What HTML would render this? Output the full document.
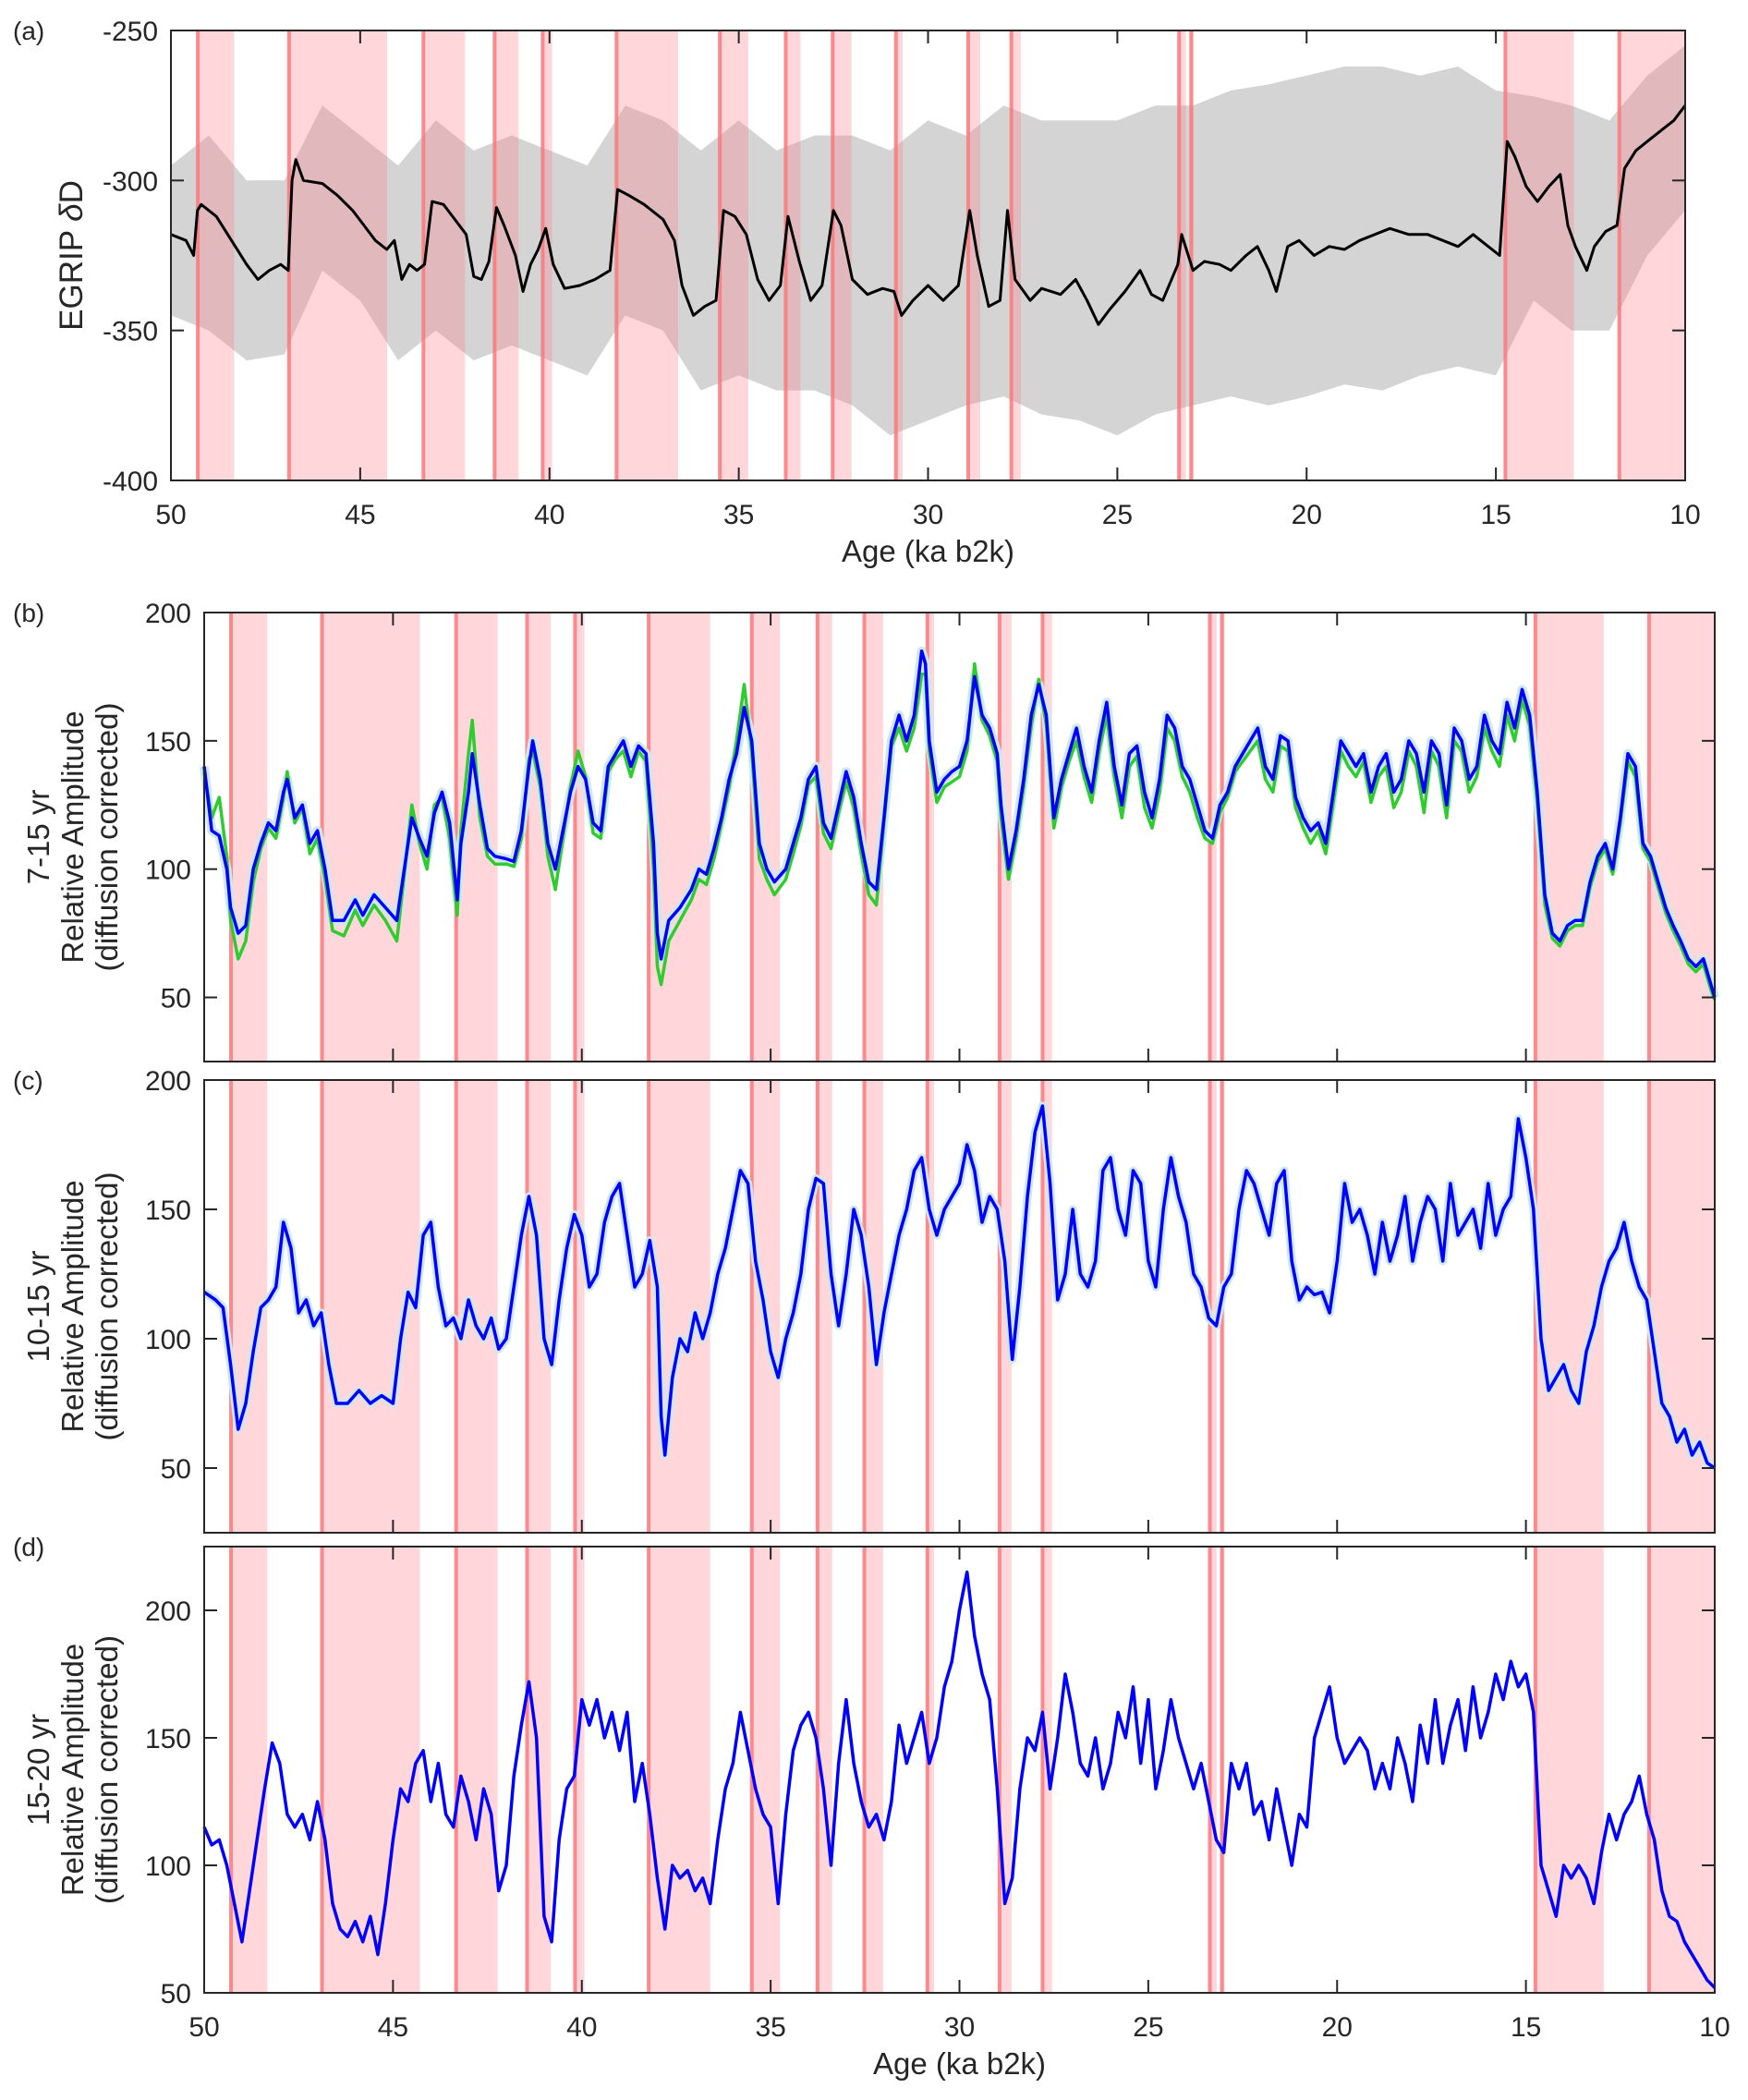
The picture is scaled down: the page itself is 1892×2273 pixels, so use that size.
<!DOCTYPE html>
<html><head><meta charset="utf-8">
<style>
html,body{margin:0;padding:0;background:#fff;}
svg{display:block;font-family:"Liberation Sans",Arial,sans-serif;}
</style></head>
<body>
<svg id="fig" width="1892" height="2273" viewBox="0 0 1892 2273" xmlns="http://www.w3.org/2000/svg">
</svg>
<script>
// ---------- data ----------
const bandStart = [49.29,46.88,43.33,41.45,40.18,38.23,35.5,33.76,32.52,30.85,28.94,27.8,23.37,23.05,14.75,11.74];
const bandEnd   = [48.33,44.29,42.23,40.82,39.93,36.6,34.75,33.37,32.02,30.67,28.62,27.55,23.19,22.98,12.94,10.0];

const ageA = [50,49.6,49.4,49.3,49.2,48.8,48.5,48.3,48,47.7,47.4,47.1,46.9,46.8,46.7,46.5,46,45.6,45.2,44.9,44.6,44.3,44.1,43.9,43.7,43.5,43.3,43.1,42.8,42.5,42.2,42,41.8,41.6,41.4,41.2,40.9,40.7,40.5,40.3,40.1,39.9,39.6,39.2,38.8,38.4,38.2,37.9,37.5,37,36.7,36.5,36.2,35.9,35.6,35.4,35.1,34.8,34.5,34.2,33.9,33.7,33.4,33.1,32.8,32.5,32.3,32,31.6,31.2,30.9,30.7,30.4,30,29.6,29.2,28.9,28.7,28.4,28.1,27.9,27.7,27.3,27,26.5,26.1,25.8,25.5,25.2,24.8,24.4,24.1,23.8,23.4,23.3,23,22.7,22.3,22,21.6,21.3,21,20.8,20.5,20.2,19.8,19.4,19,18.6,18.2,17.8,17.3,16.8,16.4,16,15.6,15.2,14.9,14.7,14.5,14.2,13.9,13.6,13.3,13.1,12.9,12.6,12.4,12.1,11.8,11.6,11.3,11,10.6,10.3,10];
const dD = [-318,-320,-325,-310,-308,-312,-318,-322,-328,-333,-330,-328,-330,-300,-293,-300,-301,-305,-310,-315,-320,-323,-320,-333,-328,-330,-328,-307,-308,-313,-318,-332,-333,-327,-309,-315,-325,-337,-328,-323,-316,-328,-336,-335,-333,-330,-303,-305,-308,-313,-320,-335,-345,-342,-340,-310,-312,-318,-333,-340,-335,-312,-327,-340,-335,-310,-315,-333,-338,-336,-337,-345,-340,-335,-340,-335,-310,-325,-342,-340,-310,-333,-340,-336,-338,-333,-340,-348,-343,-337,-330,-338,-340,-328,-318,-330,-327,-328,-330,-325,-322,-330,-337,-322,-320,-325,-322,-323,-320,-318,-316,-318,-318,-320,-322,-318,-322,-325,-287,-292,-302,-307,-302,-298,-315,-322,-330,-322,-317,-315,-296,-290,-287,-283,-280,-275];

const ageEnv = [50,49,48,47,46,45,44,43,42,41,40,39,38,37,36,35,34,33,32,31,30,29,28,27,26,25,24,23,22,21,20,19,18,17,16,15,14,13,12,11,10];
const rawUpper = [-295,-285,-300,-300,-275,-285,-295,-280,-290,-285,-290,-295,-275,-280,-290,-280,-290,-285,-285,-290,-280,-285,-275,-280,-280,-280,-275,-275,-270,-268,-265,-262,-262,-265,-262,-270,-272,-275,-280,-265,-255];
const rawLower = [-345,-350,-360,-358,-330,-340,-360,-350,-360,-355,-360,-365,-345,-350,-370,-365,-370,-370,-375,-385,-380,-375,-372,-378,-380,-385,-378,-375,-372,-375,-372,-368,-370,-365,-362,-365,-340,-350,-350,-325,-310];

const ageB = [50,49.8,49.6,49.4,49.3,49.1,48.9,48.7,48.5,48.3,48.1,47.9,47.8,47.6,47.4,47.2,47,46.8,46.6,46.3,46,45.8,45.5,45.2,44.9,44.7,44.5,44.3,44.1,43.9,43.7,43.5,43.3,43.2,43,42.9,42.7,42.5,42.3,42,41.8,41.6,41.4,41.3,41.1,40.9,40.7,40.5,40.3,40.1,39.9,39.7,39.5,39.3,39.1,38.9,38.7,38.5,38.3,38.1,38,37.9,37.7,37.4,37.1,36.9,36.7,36.5,36.3,36.1,35.9,35.7,35.5,35.3,35.1,34.9,34.6,34.4,34.2,34,33.8,33.6,33.4,33.2,33,32.8,32.6,32.4,32.2,32,31.8,31.6,31.4,31.2,31,30.9,30.8,30.6,30.4,30.2,30,29.8,29.6,29.4,29.2,29,28.9,28.7,28.5,28.3,28.1,27.9,27.7,27.5,27.3,27.1,26.9,26.7,26.5,26.3,26.1,25.9,25.7,25.5,25.3,25.1,24.9,24.7,24.5,24.3,24.1,23.9,23.7,23.5,23.3,23.1,22.9,22.7,22.5,22.3,22.1,21.9,21.7,21.5,21.3,21.1,20.9,20.7,20.5,20.3,20.1,19.9,19.7,19.5,19.3,19.1,18.9,18.7,18.5,18.3,18.1,17.9,17.7,17.5,17.3,17.1,16.9,16.7,16.5,16.3,16.1,15.9,15.7,15.5,15.3,15.1,14.9,14.7,14.5,14.3,14.1,13.9,13.7,13.5,13.3,13.1,12.9,12.7,12.5,12.3,12.1,11.9,11.7,11.5,11.3,11.1,10.9,10.7,10.5,10.3,10.1,10];
const ampB = [140,115,113,100,85,75,78,100,110,118,115,130,135,120,125,110,115,100,80,80,88,82,90,85,80,100,120,112,105,122,130,118,88,110,130,145,125,108,105,104,103,115,140,150,135,110,100,115,130,140,135,118,115,140,145,150,140,148,145,110,75,65,80,85,92,100,98,108,120,135,145,163,150,110,100,95,100,110,120,135,140,118,112,125,138,128,110,95,92,120,150,160,150,160,185,180,150,130,135,138,140,150,175,160,155,145,125,100,115,135,160,172,160,120,135,145,155,140,130,150,165,140,125,145,148,130,120,135,160,155,140,135,125,115,112,125,130,140,145,150,155,140,135,152,150,128,120,115,118,110,130,150,145,140,145,130,140,145,130,135,150,145,130,150,145,125,155,150,135,140,160,150,145,165,155,170,160,130,90,75,72,78,80,80,95,105,110,100,120,145,140,110,105,95,85,78,72,65,62,65,55,50];
const ampBgreen = [138,120,128,105,80,65,72,95,108,116,112,128,138,118,124,106,112,96,76,74,84,78,86,80,72,98,125,110,100,125,128,112,82,115,145,158,120,105,102,102,101,112,143,146,132,105,92,112,132,146,136,114,112,138,143,146,136,146,142,100,62,55,72,80,88,96,94,104,118,132,150,172,146,104,96,90,96,106,117,133,136,114,108,122,134,124,106,90,86,118,148,155,146,155,176,176,146,126,132,134,136,146,180,158,152,142,120,96,112,132,156,174,156,116,132,142,150,136,126,146,160,136,120,140,144,124,116,130,155,150,136,130,120,112,110,122,128,138,142,146,150,135,130,148,146,124,116,110,115,106,126,146,140,136,142,126,136,140,124,130,146,140,122,146,140,120,150,146,130,136,155,146,140,160,150,166,156,126,86,73,70,76,78,78,93,103,108,98,118,142,136,108,103,93,83,76,70,63,60,63,53,49];

const ageC = [50,49.7,49.5,49.3,49.1,48.9,48.7,48.5,48.3,48.1,47.9,47.7,47.5,47.3,47.1,46.9,46.7,46.5,46.2,45.9,45.6,45.3,45,44.8,44.6,44.4,44.2,44,43.8,43.6,43.4,43.2,43,42.8,42.6,42.4,42.2,42,41.8,41.6,41.4,41.2,41,40.8,40.6,40.4,40.2,40,39.8,39.6,39.4,39.2,39,38.8,38.6,38.4,38.2,38,37.9,37.8,37.6,37.4,37.2,37,36.8,36.6,36.4,36.2,36,35.8,35.6,35.4,35.2,35,34.8,34.6,34.4,34.2,34,33.8,33.6,33.4,33.2,33,32.8,32.6,32.4,32.2,32,31.8,31.6,31.4,31.2,31,30.8,30.6,30.4,30.2,30,29.8,29.6,29.4,29.2,29,28.8,28.6,28.4,28.2,28,27.8,27.6,27.4,27.2,27,26.8,26.6,26.4,26.2,26,25.8,25.6,25.4,25.2,25,24.8,24.6,24.4,24.2,24,23.8,23.6,23.4,23.2,23,22.8,22.6,22.4,22.2,22,21.8,21.6,21.4,21.2,21,20.8,20.6,20.4,20.2,20,19.8,19.6,19.4,19.2,19,18.8,18.6,18.4,18.2,18,17.8,17.6,17.4,17.2,17,16.8,16.6,16.4,16.2,16,15.8,15.6,15.4,15.2,15,14.8,14.6,14.4,14.2,14,13.8,13.6,13.4,13.2,13,12.8,12.6,12.4,12.2,12,11.8,11.6,11.4,11.2,11,10.8,10.6,10.4,10.2,10];
const ampC = [118,115,112,90,65,75,95,112,115,120,145,135,110,115,105,110,90,75,75,80,75,78,75,100,118,112,140,145,120,105,108,100,115,105,100,108,96,100,120,140,155,140,100,90,115,135,148,140,120,125,145,155,160,140,120,125,138,120,70,55,85,100,95,110,100,110,125,135,150,165,160,130,115,95,85,100,110,125,150,162,160,125,105,125,150,140,120,90,110,125,140,150,165,170,150,140,150,155,160,175,165,145,155,150,130,92,120,155,180,190,160,115,125,150,125,120,130,165,170,150,140,165,160,130,120,150,170,155,145,125,120,108,105,120,125,150,165,160,150,140,160,165,130,115,120,117,118,110,130,160,145,150,140,125,145,130,140,155,130,145,155,150,130,160,140,145,150,135,160,140,150,155,185,170,150,100,80,85,90,80,75,95,105,120,130,135,145,130,120,115,95,75,70,60,65,55,60,52,50];

const ageD = [50,49.8,49.6,49.4,49.2,49,48.8,48.6,48.4,48.2,48,47.8,47.6,47.4,47.2,47,46.8,46.6,46.4,46.2,46,45.8,45.6,45.4,45.2,45,44.8,44.6,44.4,44.2,44,43.8,43.6,43.4,43.2,43,42.8,42.6,42.4,42.2,42,41.8,41.6,41.4,41.2,41,40.8,40.6,40.4,40.2,40,39.8,39.6,39.4,39.2,39,38.8,38.6,38.4,38.2,38,37.8,37.6,37.4,37.2,37,36.8,36.6,36.4,36.2,36,35.8,35.6,35.4,35.2,35,34.8,34.6,34.4,34.2,34,33.8,33.6,33.4,33.2,33,32.8,32.6,32.4,32.2,32,31.8,31.6,31.4,31.2,31,30.8,30.6,30.4,30.2,30,29.8,29.6,29.4,29.2,29,28.8,28.6,28.4,28.2,28,27.8,27.6,27.4,27.2,27,26.8,26.6,26.4,26.2,26,25.8,25.6,25.4,25.2,25,24.8,24.6,24.4,24.2,24,23.8,23.6,23.4,23.2,23,22.8,22.6,22.4,22.2,22,21.8,21.6,21.4,21.2,21,20.8,20.6,20.4,20.2,20,19.8,19.6,19.4,19.2,19,18.8,18.6,18.4,18.2,18,17.8,17.6,17.4,17.2,17,16.8,16.6,16.4,16.2,16,15.8,15.6,15.4,15.2,15,14.8,14.6,14.4,14.2,14,13.8,13.6,13.4,13.2,13,12.8,12.6,12.4,12.2,12,11.8,11.6,11.4,11.2,11,10.8,10.6,10.4,10.2,10];
const ampD = [115,108,110,100,85,70,90,110,130,148,140,120,115,120,110,125,110,85,75,72,78,70,80,65,85,110,130,125,140,145,125,140,120,115,135,125,110,130,120,90,100,135,155,172,150,80,70,110,130,135,165,155,165,150,160,145,160,125,140,120,95,75,100,95,98,90,95,85,110,130,140,160,145,130,120,115,85,120,145,155,160,150,130,100,140,165,140,125,115,120,110,125,155,140,150,160,140,150,170,180,200,215,190,175,165,130,85,95,130,150,145,160,130,150,175,160,140,135,150,130,140,160,150,170,140,165,130,145,165,150,140,130,140,125,110,105,140,130,140,120,125,110,130,115,100,120,115,150,160,170,150,140,145,150,145,130,140,130,150,140,125,155,140,165,140,155,165,145,170,150,160,175,165,180,170,175,160,100,90,80,100,95,100,95,85,105,120,110,120,125,135,120,110,90,80,78,70,65,60,55,52];

// ---------- helpers ----------
const NS = 'http://www.w3.org/2000/svg';
const svg = document.getElementById('fig');
function mk(tag, attrs, parent){
  const e = document.createElementNS(NS, tag);
  for (const k in attrs) e.setAttribute(k, attrs[k]);
  (parent||svg).appendChild(e);
  return e;
}
function panel(cfg){
  const g = mk('g', {});
  
  
  const x = a => cfg.L + (50 - a) / 40 * (cfg.R - cfg.L);
  const y = v => cfg.B - (v - cfg.ymin) / (cfg.ymax - cfg.ymin) * (cfg.B - cfg.T);
  cfg.x = x; cfg.y = y; cfg.g = g;
  return cfg;
}
function bands(p){
  for (let i = 0; i < bandStart.length; i++){
    const r = mk('rect', {x: p.x(bandStart[i]), y: p.T, width: p.x(bandEnd[i]) - p.x(bandStart[i]), height: p.B - p.T, fill: 'rgb(255,120,128)', 'fill-opacity': 0.3}, p.g);
    
    
    const l = mk('line', {x1: p.x(bandStart[i]), x2: p.x(bandStart[i]), y1: p.T, y2: p.B, stroke: 'rgb(250,120,125)', 'stroke-width': 4, 'stroke-opacity': 0.85}, p.g);
    
    
  }
}
function line(p, ages, vals, color, w, name){
  let d = '';
  for (let i = 0; i < ages.length; i++) d += (i ? 'L' : 'M') + p.x(ages[i]).toFixed(1) + ',' + p.y(vals[i]).toFixed(1);
  const e = mk('path', {d: d, fill: 'none', stroke: color, 'stroke-width': w, 'stroke-linejoin': 'round'}, p.g);
  
  
}
function axes(p, yticks, xlabels, ylabLines){
  const f = mk('rect', {x: p.L, y: p.T, width: p.R - p.L, height: p.B - p.T, fill: 'none', stroke: '#262626', 'stroke-width': 2}, p.g);
  
  
  for (let a = 50; a >= 10; a -= 5){
    const xx = p.x(a);
    mk('line', {x1: xx, x2: xx, y1: p.B, y2: p.B - 14, stroke: '#262626', 'stroke-width': 2}, p.g);
    mk('line', {x1: xx, x2: xx, y1: p.T, y2: p.T + 14, stroke: '#262626', 'stroke-width': 2}, p.g);
    if (xlabels){
      const t = mk('text', {x: xx, y: p.B + 47, 'font-size': 30, 'text-anchor': 'middle', fill: '#262626'}, p.g);
      t.textContent = String(a);
      
      
    }
  }
  yticks.forEach(v => {
    const yy = p.y(v);
    mk('line', {x1: p.L, x2: p.L + 14, y1: yy, y2: yy, stroke: '#262626', 'stroke-width': 2}, p.g);
    mk('line', {x1: p.R, x2: p.R - 14, y1: yy, y2: yy, stroke: '#262626', 'stroke-width': 2}, p.g);
    const t = mk('text', {x: p.L - 14, y: yy + 11, 'font-size': 30, 'text-anchor': 'end', fill: '#262626'}, p.g);
    t.textContent = String(v);
    
    
  });
  if (xlabels){
    const t = mk('text', {x: (p.L + p.R) / 2, y: p.B + 88, 'font-size': 33, 'text-anchor': 'middle', fill: '#262626'}, p.g);
    t.textContent = 'Age (ka b2k)';
    
    
  }
  const cy = (p.T + p.B) / 2;
  ylabLines.forEach((s, i) => {
    const t = mk('text', {x: 0, y: 0, 'font-size': p.ylabSize, 'text-anchor': 'middle', fill: '#262626', transform: 'translate(' + (p.ylabX0 + i * 37) + ',' + cy + ') rotate(-90)'}, p.g);
    t.innerHTML = s;
    
    
  });
  const pl = mk('text', {x: 14, y: p.T + 10, 'font-size': 28, fill: '#262626'}, p.g);
  pl.textContent = p.tag;
  
  
}

// ---------- panel a ----------
const pa = panel({name: 'panel-a', L: 185, R: 1824, T: 33, B: 520, ymin: -400, ymax: -250, tag: '(a)', ylabX0: 89, ylabSize: 35});
{
  let d = '';
  for (let i = 0; i < ageEnv.length; i++) d += (i ? 'L' : 'M') + pa.x(ageEnv[i]).toFixed(1) + ',' + pa.y(rawUpper[i]).toFixed(1);
  for (let i = ageEnv.length - 1; i >= 0; i--) d += 'L' + pa.x(ageEnv[i]).toFixed(1) + ',' + pa.y(rawLower[i]).toFixed(1);
  const e = mk('path', {d: d + 'Z', fill: '#d4d4d4'}, pa.g);
  
  
}
bands(pa);
line(pa, ageA, dD, '#000', 3, 'smoothed-dD-line');
axes(pa, [-250, -300, -350, -400], true, ['EGRIP <tspan font-style="italic">δ</tspan>D']);

// ---------- panel b ----------
const pb = panel({name: 'panel-b', L: 221, R: 1856, T: 663, B: 1149, ymin: 25, ymax: 200, tag: '(b)', ylabX0: 53, ylabSize: 33});
bands(pb);
line(pb, ageB, ampB, '#cfe7f0', 10, 'uncertainty-band');
line(pb, ageB, ampBgreen, '#2ecc2e', 3.5, 'green-series-line');
line(pb, ageB, ampB, '#0000ff', 3.5, 'blue-series-line');
axes(pb, [50, 100, 150, 200], false, ['7-15 yr', 'Relative Amplitude', '(diffusion corrected)']);

// ---------- panel c ----------
const pc = panel({name: 'panel-c', L: 221, R: 1856, T: 1169, B: 1659, ymin: 25, ymax: 200, tag: '(c)', ylabX0: 53, ylabSize: 33});
bands(pc);
line(pc, ageC, ampC, '#cfe7f0', 9, 'uncertainty-band');
line(pc, ageC, ampC, '#0000ff', 3.5, 'blue-series-line');
axes(pc, [50, 100, 150, 200], false, ['10-15 yr', 'Relative Amplitude', '(diffusion corrected)']);

// ---------- panel d ----------
const pd = panel({name: 'panel-d', L: 221, R: 1856, T: 1674, B: 2157, ymin: 50, ymax: 225, tag: '(d)', ylabX0: 53, ylabSize: 33});
bands(pd);
line(pd, ageD, ampD, '#0000ff', 3.5, 'blue-series-line');
axes(pd, [50, 100, 150, 200], true, ['15-20 yr', 'Relative Amplitude', '(diffusion corrected)']);
</script>
</body></html>
